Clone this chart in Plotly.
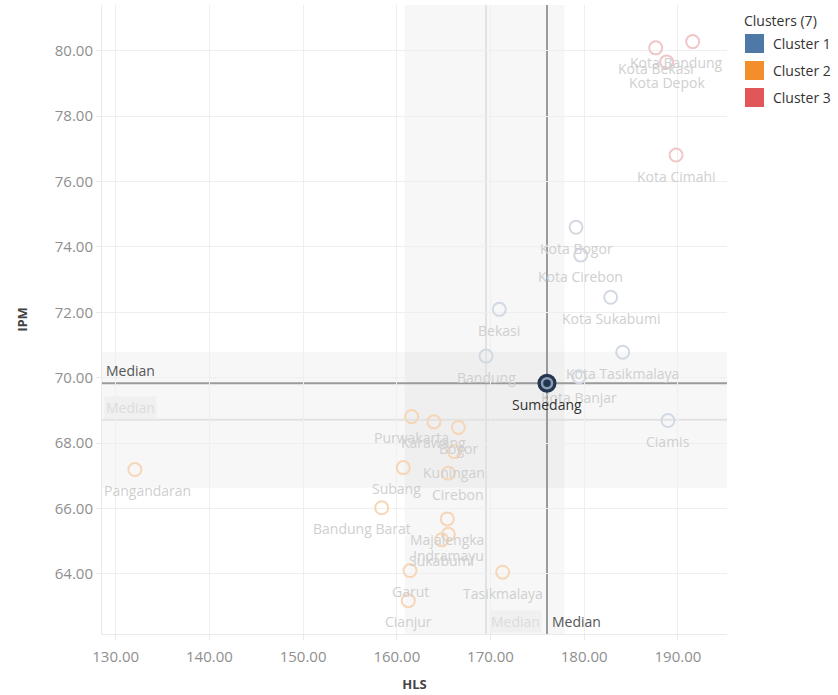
import plotly.graph_objects as go

# ---------------- data ----------------
cluster_names = ["Cluster 1", "Cluster 2", "Cluster 3"]
cluster_colors = ["#4e79a7", "#f28e2b", "#e15759"]
faded_colors = ["#d2d9e2", "#f6d6b6", "#efc7c9"]

names1 = ["Kota Bogor", "Kota Cirebon", "Kota Sukabumi", "Bekasi", "Bandung",
          "Kota Tasikmalaya", "Kota Banjar", "Ciamis"]
hls1 = [179.13, 179.63, 182.83, 170.94, 169.52, 184.11, 179.44, 188.94]
ipm1 = [74.60, 73.75, 72.46, 72.09, 70.66, 70.78, 70.03, 68.69]

names2 = ["Purwakarta", "Karawang", "Bogor", "Kuningan", "Subang", "Cirebon",
          "Pangandaran", "Bandung Barat", "Majalengka", "Indramayu", "Sukabumi",
          "Garut", "Tasikmalaya", "Cianjur"]
hls2 = [161.59, 163.97, 166.57, 166.14, 160.69, 165.50, 132.05, 158.39,
        165.39, 165.50, 164.79, 161.41, 171.30, 161.23]
ipm2 = [68.81, 68.65, 68.48, 67.74, 67.25, 67.08, 67.19, 66.02,
        65.68, 65.21, 65.04, 64.10, 64.05, 63.18]

names3 = ["Kota Bandung", "Kota Bekasi", "Kota Depok", "Kota Cimahi"]
hls3 = [191.58, 187.63, 188.80, 189.80]
ipm3 = [80.28, 80.09, 79.66, 76.81]

sel_name = "Sumedang"
sel_hls = 176.03
sel_ipm = 69.83

median_hls = 176.03
median_ipm = 69.83
faint_median_hls = 169.52
faint_median_ipm = 68.71
band_hls = [160.85, 177.90]
band_ipm = [66.63, 70.79]

x_ticks = [130, 140, 150, 160, 170, 180, 190]
y_ticks = [64, 66, 68, 70, 72, 74, 76, 78, 80]

# label nudges (pixels) where the label was pushed sideways
label_dx = {"Kota Bandung": -16, "Pangandaran": 13, "Bandung Barat": -20,
            "Cirebon": 10, "Subang": -7}

FONT = "Open Sans"
X_RANGE = [128.54, 195.24]
Y_RANGE = [62.16, 81.40]

fig = go.Figure()

groups = [(names1, hls1, ipm1), (names2, hls2, ipm2), (names3, hls3, ipm3)]
for i, (nm, xs, ys) in enumerate(groups):
    fig.add_trace(go.Scatter(
        x=xs, y=ys, mode="markers", name=cluster_names[i], showlegend=False,
        text=nm, hoverinfo="text+x+y",
        marker=dict(symbol="circle-open", size=13, color=faded_colors[i],
                    line=dict(width=2, color=faded_colors[i]))))

# highlighted mark
fig.add_trace(go.Scatter(
    x=[sel_hls], y=[sel_ipm], mode="markers", showlegend=False,
    marker=dict(symbol="circle", size=19, color="#24364f", line=dict(width=0))))
fig.add_trace(go.Scatter(
    x=[sel_hls], y=[sel_ipm], mode="markers", showlegend=False,
    marker=dict(symbol="circle-open", size=10, color="#8a9db3",
                line=dict(width=2.5, color="#8a9db3"))))

# ---------------- labels ----------------
annotations = []
for i, (nm, xs, ys) in enumerate(groups):
    for n, x, y in zip(nm, xs, ys):
        annotations.append(dict(
            x=x, y=y, xref="x", yref="y", text=n, showarrow=False,
            yshift=-21, xshift=label_dx.get(n, 0),
            font=dict(family=FONT, size=14, color="#cfcfcf")))
annotations.append(dict(
    x=sel_hls, y=sel_ipm, xref="x", yref="y", text=sel_name, showarrow=False,
    yshift=-21, font=dict(family=FONT, size=14, color="#333333")))

# median labels
annotations.append(dict(x=X_RANGE[0], y=median_ipm, xref="x", yref="y",
                        text="Median", showarrow=False, xanchor="left",
                        yanchor="bottom", xshift=2, yshift=1,
                        font=dict(family=FONT, size=14, color="#555555")))
annotations.append(dict(x=X_RANGE[0], y=faint_median_ipm, xref="x", yref="y",
                        text="Median", showarrow=False, xanchor="left",
                        yanchor="bottom", xshift=2, yshift=1,
                        bgcolor="#f0f0f0",
                        font=dict(family=FONT, size=14, color="#dcdcdc")))
annotations.append(dict(x=median_hls, y=Y_RANGE[0], xref="x", yref="y",
                        text="Median", showarrow=False, xanchor="left",
                        yanchor="bottom", xshift=3, yshift=1,
                        font=dict(family=FONT, size=14, color="#555555")))
annotations.append(dict(x=faint_median_hls, y=Y_RANGE[0], xref="x", yref="y",
                        text="Median", showarrow=False, xanchor="left",
                        yanchor="bottom", xshift=3, yshift=1,
                        bgcolor="#f0f0f0",
                        font=dict(family=FONT, size=14, color="#dcdcdc")))

# ---------------- shapes ----------------
shapes = []
shapes.append(dict(type="rect", xref="x", yref="paper", x0=band_hls[0], x1=band_hls[1],
                   y0=0, y1=1, fillcolor="rgba(0,0,0,0.03)", line=dict(width=0),
                   layer="below"))
shapes.append(dict(type="rect", xref="paper", yref="y", x0=0, x1=1,
                   y0=band_ipm[0], y1=band_ipm[1], fillcolor="rgba(0,0,0,0.03)",
                   line=dict(width=0), layer="below"))
shapes.append(dict(type="line", xref="x", yref="paper", x0=faint_median_hls,
                   x1=faint_median_hls, y0=0, y1=1,
                   line=dict(color="#e2e2e2", width=2), layer="below"))
shapes.append(dict(type="line", xref="paper", yref="y", x0=0, x1=1,
                   y0=faint_median_ipm, y1=faint_median_ipm,
                   line=dict(color="#e2e2e2", width=2), layer="below"))
shapes.append(dict(type="line", xref="x", yref="paper", x0=median_hls,
                   x1=median_hls, y0=0, y1=1,
                   line=dict(color="#9a9a9a", width=2), layer="below"))
shapes.append(dict(type="line", xref="paper", yref="y", x0=0, x1=1,
                   y0=median_ipm, y1=median_ipm,
                   line=dict(color="#9a9a9a", width=2), layer="below"))

# ---------------- manual legend ----------------
L, R, T, B = 102, 111, 5, 61
W, H = 838, 695
PW, PH = W - L - R, H - T - B


def px_x(px):
    return (px - L) / PW


def px_y(py):
    return (H - B - py) / PH


annotations.append(dict(x=px_x(742), y=px_y(20), xref="paper", yref="paper",
                        text="Clusters (7)", showarrow=False, xanchor="left",
                        yanchor="middle",
                        font=dict(family=FONT, size=14, color="#333333")))
for k, (nm, col) in enumerate(zip(cluster_names, cluster_colors)):
    top = 34 + k * 27
    shapes.append(dict(type="rect", xref="paper", yref="paper",
                       x0=px_x(745), x1=px_x(764), y0=px_y(top), y1=px_y(top + 19),
                       fillcolor=col, line=dict(width=0)))
    annotations.append(dict(x=px_x(771), y=px_y(top + 9.5), xref="paper",
                            yref="paper", text=nm, showarrow=False,
                            xanchor="left", yanchor="middle",
                            font=dict(family=FONT, size=14, color="#333333")))

fig.update_layout(
    width=W, height=H,
    margin=dict(l=L, r=R, t=T, b=B, autoexpand=False),
    paper_bgcolor="white", plot_bgcolor="white",
    font=dict(family=FONT, size=14, color="#333333"),
    shapes=shapes, annotations=annotations,
    showlegend=False,
    xaxis=dict(range=X_RANGE, tickvals=x_ticks, tickformat=".2f",
               showgrid=True, gridcolor="#efefef", gridwidth=1, zeroline=False,
               showline=True, linecolor="#eaeaea", linewidth=1,
               ticks="outside", ticklen=5, tickcolor="#eaeaea",
               ticklabelstandoff=4, automargin=False,
               tickfont=dict(family=FONT, size=15, color="#8f8f8f"),
               title=dict(text="<b>HLS</b>", standoff=14,
                          font=dict(family=FONT, size=13, color="#444444"))),
    yaxis=dict(range=Y_RANGE, tickvals=y_ticks, tickformat=".2f",
               showgrid=True, gridcolor="#efefef", gridwidth=1, zeroline=False,
               showline=True, linecolor="#eaeaea", linewidth=1,
               ticks="outside", ticklen=5, tickcolor="#eaeaea", automargin=False,
               tickfont=dict(family=FONT, size=15, color="#8f8f8f"),
               title=dict(text="<b>IPM</b>", standoff=24,
                          font=dict(family=FONT, size=13, color="#444444"))),
)

fig.write_html("out.html", config={"displayModeBar": False},
               post_script="document.body.style.margin='0px';"
                           "document.body.style.overflow='hidden';")
